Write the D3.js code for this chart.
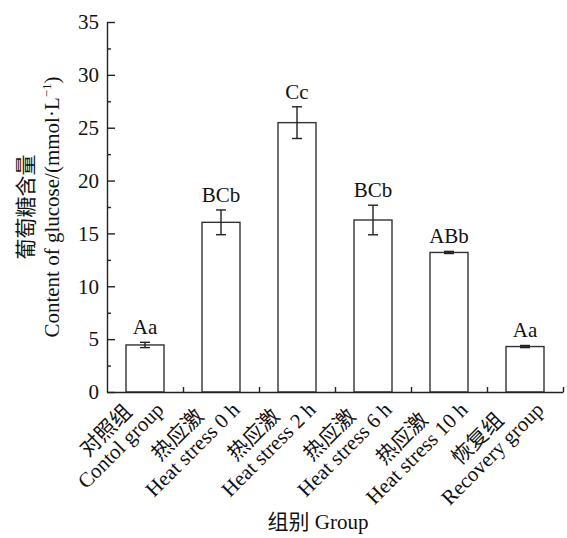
<!DOCTYPE html>
<html>
<head>
<meta charset="utf-8">
<script src="https://cdn.jsdelivr.net/npm/d3@7"></script>
<style>
  body { margin: 0; background: #fff; }
  text { font-family: "Liberation Serif", "Noto Sans CJK SC", serif; fill: #111; }
</style>
</head>
<body>
<div id="chart"></div>
<script>
const groupsZh = ["对照组", "热应激", "热应激", "热应激", "热应激", "恢复组"];
const groupsEn = ["Contol group", "Heat stress 0 h", "Heat stress 2 h", "Heat stress 6 h", "Heat stress 10 h", "Recovery group"];
const glucose = [4.45, 16.05, 25.48, 16.27, 13.2, 4.3];
const errors = [0.25, 1.17, 1.5, 1.4, 0.1, 0.1];
const letters = ["Aa", "BCb", "Cc", "BCb", "ABb", "Aa"];
const yMajorTicks = [0, 5, 10, 15, 20, 25, 30, 35];
const yMinorTicks = [2.5, 7.5, 12.5, 17.5, 22.5, 27.5, 32.5];

const width = 567;
const height = 538;
const margin = { top: 22, right: 4, bottom: 146, left: 107 };
const fontSize = 21;
const ink = "#222";

const svg = d3.select("#chart")
  .append("svg")
  .attr("width", width)
  .attr("height", height);

const plotBottom = height - margin.bottom;

const y = d3.scaleLinear()
  .domain([0, 35])
  .range([plotBottom, margin.top]);

const idx = d3.range(groupsEn.length);
const x = d3.scaleBand()
  .domain(idx)
  .range([margin.left, width - margin.right])
  .paddingInner(0.5)
  .paddingOuter(0.25);

// boundaries between groups, for the small x ticks
const xEdge = d3.scaleLinear()
  .domain([0, groupsEn.length])
  .range([margin.left, width - margin.right]);

// Bars
svg.append("g")
  .selectAll("rect")
  .data(idx)
  .join("rect")
  .attr("x", i => x(i))
  .attr("y", i => y(glucose[i]))
  .attr("width", x.bandwidth())
  .attr("height", i => y(0) - y(glucose[i]))
  .attr("fill", "#fff")
  .attr("stroke", "#333")
  .attr("stroke-width", 1.4);

// Error bars
const capW = 5;
const err = svg.append("g")
  .attr("stroke", ink)
  .attr("stroke-width", 1.4)
  .selectAll("g")
  .data(idx)
  .join("g");
err.append("line")
  .attr("x1", i => x(i) + x.bandwidth() / 2)
  .attr("x2", i => x(i) + x.bandwidth() / 2)
  .attr("y1", i => y(glucose[i] - errors[i]))
  .attr("y2", i => y(glucose[i] + errors[i]));
err.append("line")
  .attr("x1", i => x(i) + x.bandwidth() / 2 - capW)
  .attr("x2", i => x(i) + x.bandwidth() / 2 + capW)
  .attr("y1", i => y(glucose[i] + errors[i]))
  .attr("y2", i => y(glucose[i] + errors[i]));
err.append("line")
  .attr("x1", i => x(i) + x.bandwidth() / 2 - capW)
  .attr("x2", i => x(i) + x.bandwidth() / 2 + capW)
  .attr("y1", i => y(glucose[i] - errors[i]))
  .attr("y2", i => y(glucose[i] - errors[i]));

// Significance letters
svg.append("g")
  .selectAll("text")
  .data(idx)
  .join("text")
  .attr("x", i => x(i) + x.bandwidth() / 2)
  .attr("y", i => y(glucose[i] + errors[i]) - 8)
  .attr("text-anchor", "middle")
  .attr("font-size", fontSize)
  .text(i => letters[i]);

// Y axis
const yAxis = svg.append("g")
  .attr("transform", `translate(${margin.left},0)`)
  .call(d3.axisLeft(y)
    .tickValues(yMajorTicks)
    .tickSizeInner(-8)
    .tickSizeOuter(0)
    .tickPadding(8)
    .tickFormat(d3.format("d")));
yAxis.selectAll("text").attr("font-size", fontSize).attr("fill", ink).attr("font-family", null);
yAxis.selectAll("line, path").attr("stroke", ink).attr("stroke-width", 1.4);

svg.append("g")
  .attr("transform", `translate(${margin.left},0)`)
  .call(d3.axisLeft(y).tickValues(yMinorTicks).tickSizeInner(-4).tickSizeOuter(0).tickFormat(""))
  .call(g => g.select(".domain").remove())
  .selectAll("line").attr("stroke", ink).attr("stroke-width", 1.4);

// X axis
const xAxis = svg.append("g")
  .attr("transform", `translate(0,${plotBottom})`)
  .call(d3.axisBottom(xEdge)
    .tickValues(d3.range(1, groupsEn.length + 1))
    .tickSizeInner(-5)
    .tickSizeOuter(0)
    .tickFormat(""));
xAxis.selectAll("line, path").attr("stroke", ink).attr("stroke-width", 1.4);

// X tick labels: two lines, rotated, centred on each other
const lab = svg.append("g")
  .selectAll("text")
  .data(idx)
  .join("text")
  .attr("font-size", fontSize)
  .attr("text-anchor", "middle")
  .attr("transform", i => `translate(${x(i) + x.bandwidth() / 2 + 20},${plotBottom + 19}) rotate(-45)`);
lab.append("tspan").attr("class", "zh").attr("y", -21).text(i => groupsZh[i]);
lab.append("tspan").attr("class", "en").attr("y", 0).text(i => groupsEn[i]);
lab.each(function() {
  const t = d3.select(this);
  const w = Math.max(t.select(".zh").node().getComputedTextLength(), t.select(".en").node().getComputedTextLength());
  t.selectAll("tspan").attr("x", -w / 2);
});

// X axis title
svg.append("text")
  .attr("x", 318)
  .attr("y", 529)
  .attr("text-anchor", "middle")
  .attr("font-size", fontSize)
  .text("组别 Group");

// Y axis title
const cy = (y(0) + y(35)) / 2;
svg.append("text")
  .attr("transform", `translate(33,${cy}) rotate(-90)`)
  .attr("text-anchor", "middle")
  .attr("font-size", fontSize)
  .text("葡萄糖含量");
const yt = svg.append("text")
  .attr("transform", `translate(59,${cy}) rotate(-90)`)
  .attr("text-anchor", "middle")
  .attr("font-size", fontSize);
yt.append("tspan").text("Content of glucose/(mmol·L");
yt.append("tspan").attr("font-size", 13).attr("dy", -8).text("−1");
yt.append("tspan").attr("dy", 8).text(")");
</script>
</body>
</html>
